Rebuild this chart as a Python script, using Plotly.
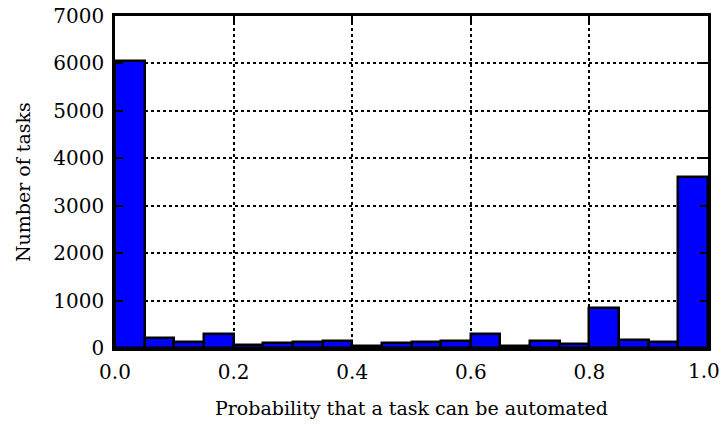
import plotly.graph_objects as go

bin_edges = [round(i * 0.05, 2) for i in range(21)]
counts = [6050, 210, 135, 300, 70, 100, 130, 150, 50, 110,
          130, 140, 295, 50, 140, 80, 850, 160, 130, 3600]
x_ticks = [0.0, 0.2, 0.4, 0.6, 0.8, 1.0]
x_tick_labels = ["0.0", "0.2", "0.4", "0.6", "0.8", "1.0"]
y_ticks = [0, 1000, 2000, 3000, 4000, 5000, 6000, 7000]
x_title = "Probability that a task can be automated"
y_title = "Number of tasks"

centers = [(bin_edges[i] + bin_edges[i + 1]) / 2 for i in range(len(counts))]
widths = [bin_edges[i + 1] - bin_edges[i] for i in range(len(counts))]

font = "DejaVu Serif"

fig = go.Figure(go.Bar(
    x=centers, y=counts, width=widths,
    marker=dict(color="#0000ff", line=dict(color="black", width=2.5)),
))

axis_common = dict(
    showline=True, linecolor="black", linewidth=2.5, mirror="allticks",
    ticks="inside", ticklen=8, tickwidth=1.5, tickcolor="black",
    showgrid=True, gridcolor="black", gridwidth=1.5, griddash="dot",
    zeroline=False, automargin=False, ticklabeloverflow="allow",
    tickfont=dict(family=font, size=20, color="black"),
)

# the last x tick label sits at the page edge; draw it as an annotation nudged inward
shown_x_labels = x_tick_labels[:-1] + [""]

fig.update_layout(
    width=721, height=425,
    margin=dict(l=115, r=13, t=16, b=77),
    paper_bgcolor="white", plot_bgcolor="white",
    showlegend=False, bargap=0,
    xaxis=dict(range=[0, 1], tickvals=x_ticks, ticktext=shown_x_labels,
               ticklabelstandoff=4, **axis_common),
    yaxis=dict(range=[0, 7000], tickvals=y_ticks, ticklabelstandoff=4,
               **axis_common),
    annotations=[
        dict(text=x_tick_labels[-1], xref="x", yref="paper", x=x_ticks[-1], y=-0.069,
             xanchor="center", yanchor="middle", xshift=-4, showarrow=False,
             font=dict(family=font, size=20, color="black")),
        dict(text=x_title, xref="paper", yref="paper", x=0.5, y=-0.18,
             xanchor="center", yanchor="middle", showarrow=False,
             font=dict(family=font, size=19, color="black")),
        dict(text=y_title, xref="paper", yref="paper", x=-0.155, y=0.5,
             xanchor="center", yanchor="middle", showarrow=False, textangle=-90,
             font=dict(family=font, size=19, color="black")),
    ],
)

fig.write_html("out.html")
